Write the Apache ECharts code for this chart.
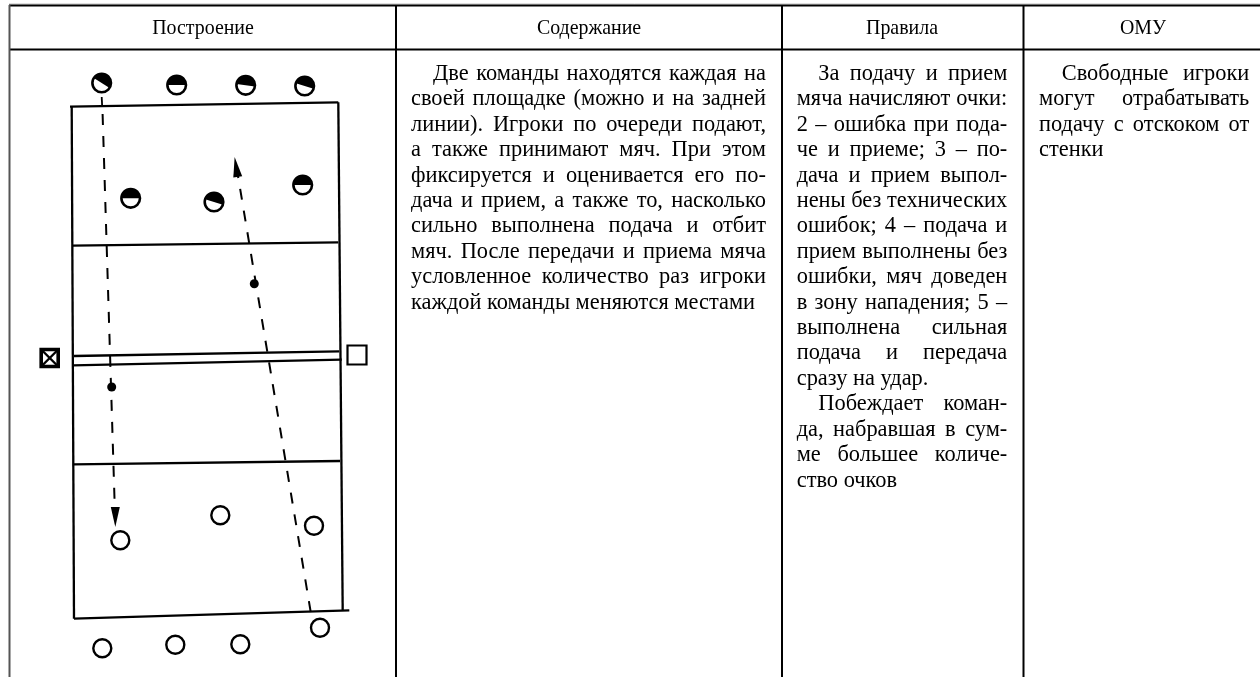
<!DOCTYPE html>
<html>
<head>
<meta charset="utf-8">
<style>html,body{margin:0;padding:0;background:#fff}#c{width:1260px;height:677px}</style>
<script src="https://cdn.jsdelivr.net/npm/echarts@6/dist/echarts.min.js"></script>
</head>
<body>
<div id="c"></div>
<script>
// ---- table contents ----
const headers = ['Построение', 'Содержание', 'Правила', 'ОМУ'];
const contentLines = [
  'Две команды находятся каждая на',
  'своей площадке (можно и на задней',
  'линии). Игроки по очереди подают,',
  'а также принимают мяч. При этом',
  'фиксируется и оценивается его по-',
  'дача и прием, а также то, насколько',
  'сильно выполнена подача и отбит',
  'мяч. После передачи и приема мяча',
  'условленное количество раз игроки',
  'каждой команды меняются местами'
];
const rulesLines = [
  'За подачу и прием',
  'мяча начисляют очки:',
  '2 – ошибка при пода-',
  'че и приеме; 3 – по-',
  'дача и прием выпол-',
  'нены без технических',
  'ошибок; 4 – подача и',
  'прием выполнены без',
  'ошибки, мяч доведен',
  'в зону нападения; 5 –',
  'выполнена сильная',
  'подача и передача',
  'сразу на удар.',
  'Побеждает коман-',
  'да, набравшая в сум-',
  'ме большее количе-',
  'ство очков'
];
const omuLines = [
  'Свободные игроки',
  'могут отрабатывать',
  'подачу с отскоком от',
  'стенки'
];
const contentIndented = [0], contentLeft = [9];
const rulesIndented = [0, 13], rulesLeft = [12, 16];
const omuIndented = [0], omuLeft = [3];

// ---- diagram values ----
const tableRules = [
  [[9, 5.5], [1260, 5.5]],
  [[9, 49.5], [1260, 49.5]],
  [[396, 5], [396, 677]],
  [[782, 5], [782, 677]],
  [[1023.5, 5], [1023.5, 677]]
];
const courtLines = [
  [[70, 106.7], [338.3, 102.3]],
  [[71.7, 106.5], [74, 618.7]],
  [[338.3, 102.3], [342.7, 610.3]],
  [[74, 618.7], [349.3, 610.3]],
  [[72.3, 245.7], [338.3, 242.3]],
  [[73.3, 464.3], [340, 461]]
];
const netLines = [
  [[74, 356], [339.3, 351.3]],
  [[72.7, 365.3], [341.7, 359.7]]
];
const servePaths = [
  [[102.6, 114], [115, 515]],
  [[310.7, 612], [237, 170]]
];
const serveTicks = [[[101.7, 97], [102.2, 107]]];
const arrowHeads = [[115.3, 517, 180], [236.2, 167, 9]];
const balls = [[254.3, 283.7], [111.7, 387]];
const teamA = [
  [101.7, 83, 212], [176.7, 85, 180], [245.7, 85.3, 188], [304.7, 86, 198],
  [130.7, 198.3, 180], [214, 202, 198], [302.7, 185, 180]
];
const teamB = [
  [120.3, 540.3], [220.3, 515.3], [314, 525.7], [320, 627.7],
  [102.3, 648.3], [175.3, 644.7], [240.3, 644.3]
];
const coachCrossed = [[49.7, 358]];
const coachOpen = [[357, 355]];

// ---- text layout ----
const FONT_SIZE = 22.4;
const FONT = FONT_SIZE + 'px "Liberation Serif"';
const TEXT_COLOR = '#000';
const INK = '#000';
const LINE_TOP = 74, LINE_H = 25.42;
const measure = document.createElement('canvas').getContext('2d');
measure.font = FONT;

function textRows(lines, xLeft, xRight, indent, indented, left) {
  return lines.map((s, i) => ({
    value: [xLeft, LINE_TOP + i * LINE_H],
    text: s,
    xStart: xLeft + (indented.includes(i) ? indent : 0),
    xEnd: xRight,
    justify: !left.includes(i)
  }));
}
const rows = [].concat(
  textRows(contentLines, 411, 766, 22, contentIndented, contentLeft),
  textRows(rulesLines, 796.7, 1007.3, 21.6, rulesIndented, rulesLeft),
  textRows(omuLines, 1039, 1249.3, 22.7, omuIndented, omuLeft)
);

function renderRow(params, api) {
  const r = rows[params.dataIndex];
  const y = api.coord([0, r.value[1]])[1];
  const x0 = api.coord([r.xStart, 0])[0], x1 = api.coord([r.xEnd, 0])[0];
  const words = r.text.split(' ');
  const widths = words.map(w => measure.measureText(w).width);
  const sum = widths.reduce((a, b) => a + b, 0);
  const gap = r.justify && words.length > 1 ? (x1 - x0 - sum) / (words.length - 1) : measure.measureText(' ').width;
  let x = x0;
  const children = words.map((w, k) => {
    const el = { type: 'text', style: { text: w, x: x, y: y, font: FONT, fill: TEXT_COLOR, align: 'left', verticalAlign: 'middle' } };
    x += widths[k] + gap;
    return el;
  });
  return { type: 'group', children };
}

function renderPlayer(params, api) {
  const c = api.coord([api.value(0), api.value(1)]);
  const r = 9.3;
  const a = api.value(2) * Math.PI / 180;
  return { type: 'group', children: [
    { type: 'circle', shape: { cx: c[0], cy: c[1], r }, style: { fill: '#fff', stroke: INK, lineWidth: 2.6 } },
    { type: 'sector', shape: { cx: c[0], cy: c[1], r0: 0, r, startAngle: a, endAngle: a + Math.PI }, style: { fill: INK } }
  ] };
}

function renderCrossed(params, api) {
  const c = api.coord([api.value(0), api.value(1)]);
  const h = 8.5;
  const line = (x1, y1, x2, y2) => ({ type: 'line', shape: { x1, y1, x2, y2 }, style: { stroke: INK, lineWidth: 2.4 } });
  return { type: 'group', children: [
    { type: 'rect', shape: { x: c[0] - h, y: c[1] - h, width: 2 * h, height: 2 * h }, style: { fill: '#fff', stroke: INK, lineWidth: 3.6 } },
    line(c[0] - h, c[1] - h, c[0] + h, c[1] + h),
    line(c[0] + h, c[1] - h, c[0] - h, c[1] + h)
  ] };
}

const seg = (pts, color, width, extra) => ({
  type: 'line', data: pts, symbol: 'none', silent: true, z: 2,
  lineStyle: Object.assign({ color, width }, extra || {})
});

const series = [];
series.push(seg([[9, 4], [1260, 4]], '#bdbdbd', 1));
tableRules.forEach(p => series.push(seg(p, INK, 2)));
series.push(seg([[9.5, 5], [9.5, 677]], '#555', 2));
courtLines.forEach(p => series.push(seg(p, INK, 2.3)));
netLines.forEach(p => series.push(seg(p, INK, 2.3)));
servePaths.forEach(p => series.push(seg(p, INK, 2, { type: [11, 11] })));
serveTicks.forEach(p => series.push(seg(p, INK, 1.8)));
series.push({
  type: 'scatter', symbol: 'triangle', symbolSize: [9, 20], silent: true, z: 3,
  data: arrowHeads.map(a => ({ value: [a[0], a[1]], symbolRotate: a[2] })),
  itemStyle: { color: INK, opacity: 1 }
});
series.push({ type: 'scatter', symbol: 'circle', symbolSize: 9, silent: true, z: 3, data: balls, itemStyle: { color: INK, opacity: 1 } });
series.push({ type: 'custom', coordinateSystem: 'cartesian2d', renderItem: renderPlayer, data: teamA, silent: true, z: 4 });
series.push({
  type: 'scatter', symbol: 'circle', symbolSize: 18, silent: true, z: 4, data: teamB,
  itemStyle: { color: '#fff', borderColor: INK, borderWidth: 2.4, opacity: 1 }
});
series.push({ type: 'custom', coordinateSystem: 'cartesian2d', renderItem: renderCrossed, data: coachCrossed, silent: true, z: 4 });
series.push({
  type: 'scatter', symbol: 'rect', symbolSize: 19, silent: true, z: 4, data: coachOpen,
  itemStyle: { color: '#fff', borderColor: INK, borderWidth: 2.2, opacity: 1 }
});
// header cells
const headerCenters = [203, 589, 902, 1143];
series.push({
  type: 'scatter', symbolSize: 0, silent: true, z: 5,
  data: headers.map((h, i) => ({ value: [headerCenters[i], 29], name: h })),
  itemStyle: { opacity: 1 },
  label: { show: true, position: 'inside', formatter: p => p.name, color: TEXT_COLOR, fontFamily: 'Liberation Serif', fontSize: 19.9, align: 'center', verticalAlign: 'middle' }
});
// body text
series.push({ type: 'custom', coordinateSystem: 'cartesian2d', renderItem: renderRow, data: rows.map(r => r.value), silent: true, z: 5 });

const chart = echarts.init(document.getElementById('c'), null, { renderer: 'canvas', width: 1260, height: 677 });
chart.setOption({
  animation: false,
  backgroundColor: '#fff',
  grid: { left: 0, right: 0, top: 0, bottom: 0, containLabel: false },
  xAxis: { type: 'value', min: 0, max: 1260, show: false },
  yAxis: { type: 'value', min: 0, max: 677, inverse: true, show: false },
  tooltip: { show: false },
  series
});
</script>
</body>
</html>
